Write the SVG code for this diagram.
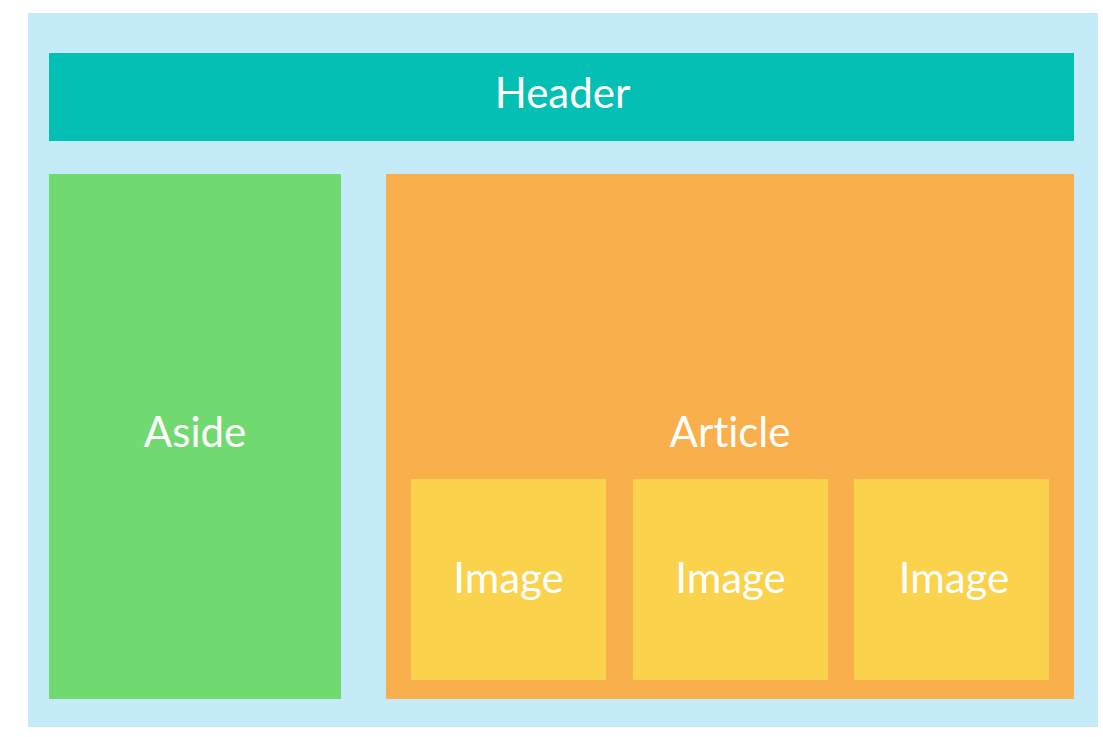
<svg xmlns="http://www.w3.org/2000/svg" width="1103" height="737" viewBox="0 0 1103 737">
  <style>
    .label { font-family: Lato, "Open Sans", "Liberation Sans", sans-serif; font-size: 42px; fill: #ffffff; text-anchor: middle; font-variant-ligatures: none; font-feature-settings: "liga" 0; }
  </style>
  <rect x="0" y="0" width="1103" height="737" fill="#ffffff"/>
  <!-- page container -->
  <rect id="page" x="28" y="13" width="1070" height="714" fill="#c5eaf8"/>
  <g id="header">
    <rect x="49" y="53" width="1025" height="88" fill="#04bfb3"/>
    <text class="label" x="562.5" y="108">Header</text>
  </g>
  <g id="aside">
    <rect x="49" y="174" width="292" height="525" fill="#70da70"/>
    <text class="label" x="195" y="447">Aside</text>
  </g>
  <g id="article">
    <rect x="386" y="174" width="688" height="525" fill="#f9af4b"/>
    <text class="label" x="730" y="447">Article</text>
  </g>
  <g id="image-1">
    <rect x="411" y="479" width="195" height="201" fill="#fad24b"/>
    <text class="label" x="508.5" y="593">Image</text>
  </g>
  <g id="image-2">
    <rect x="633" y="479" width="195" height="201" fill="#fad24b"/>
    <text class="label" x="730.5" y="593">Image</text>
  </g>
  <g id="image-3">
    <rect x="854" y="479" width="195" height="201" fill="#fad24b"/>
    <text class="label" x="954" y="593">Image</text>
  </g>
  <g id="connectors"/>
</svg>
